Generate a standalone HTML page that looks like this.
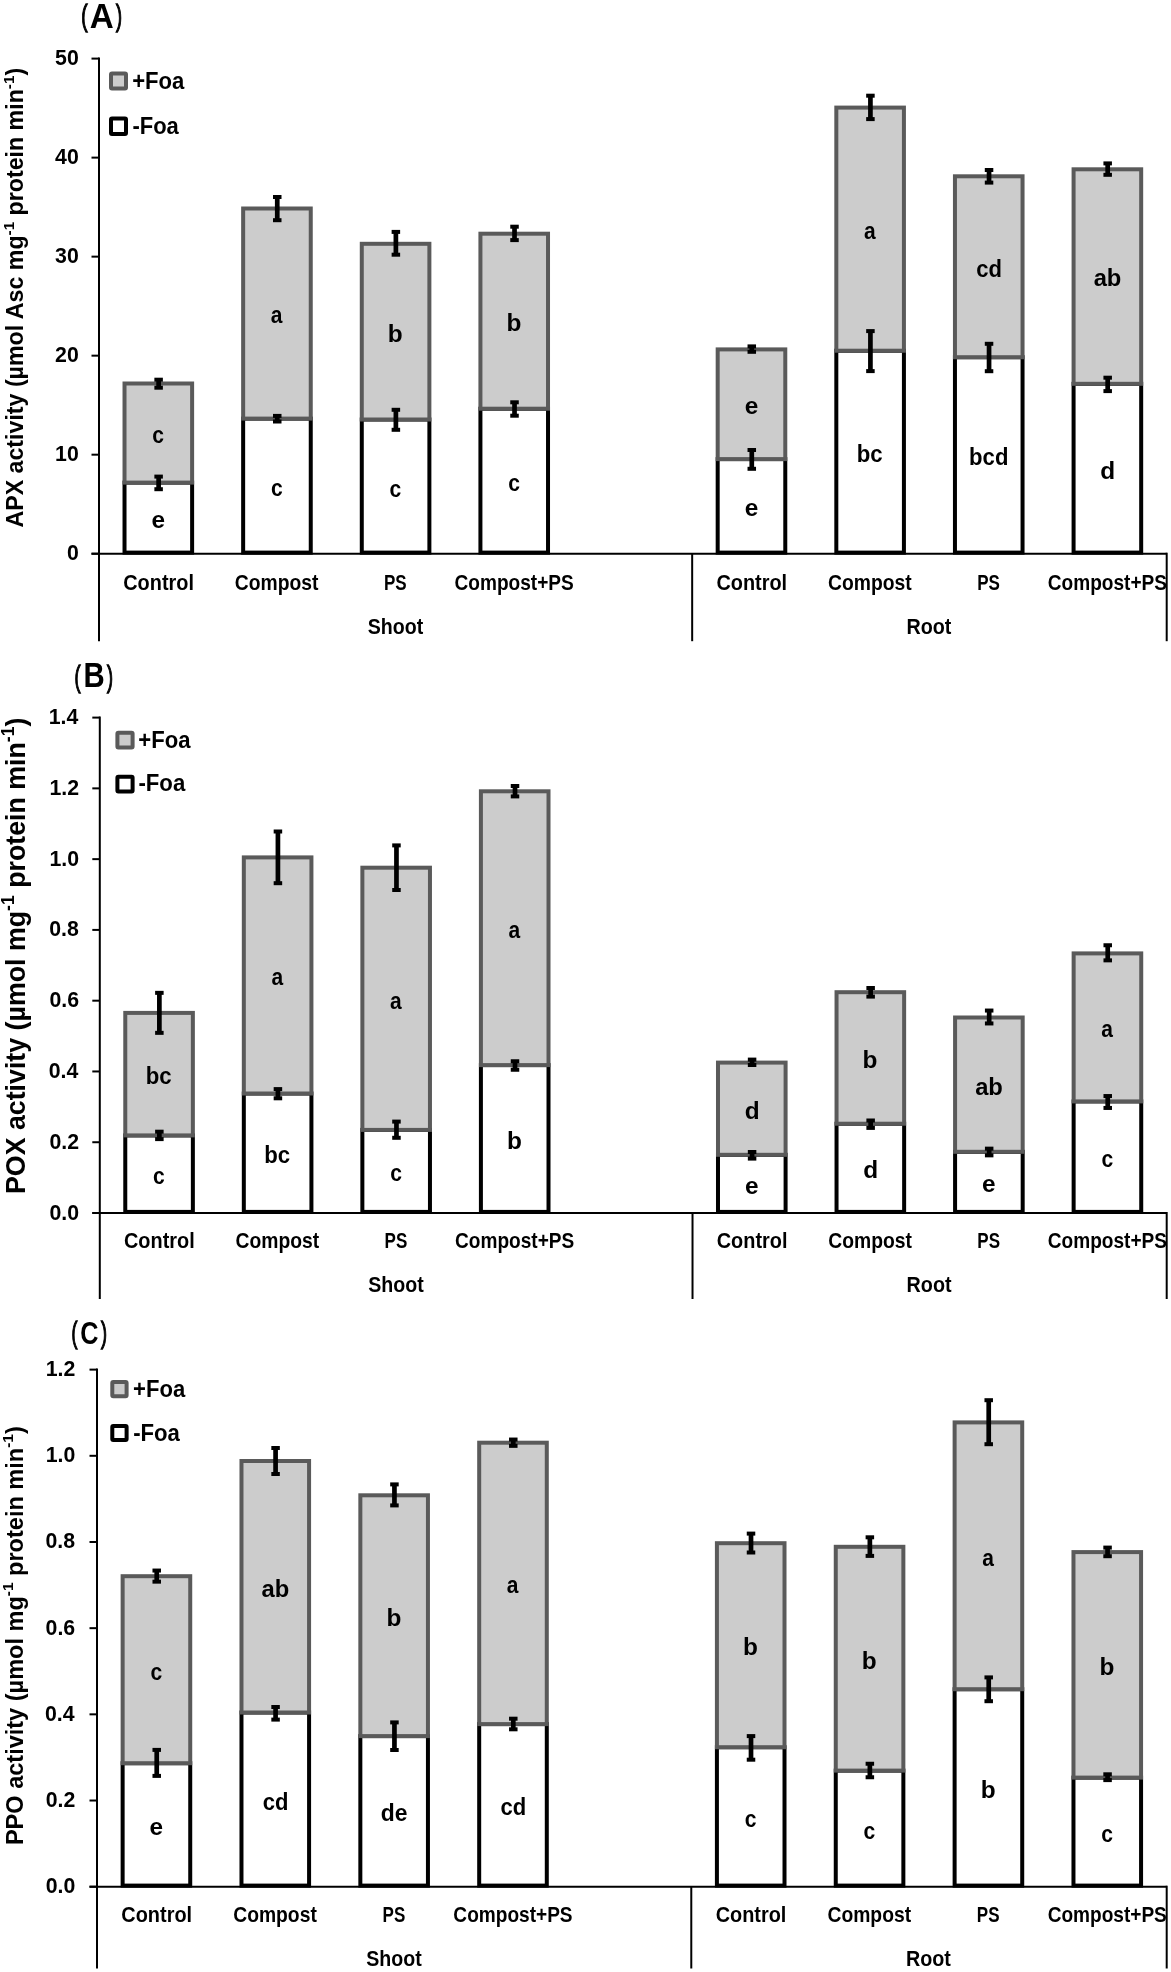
<!DOCTYPE html>
<html><head><meta charset="utf-8"><title>Enzyme activity chart</title>
<style>html,body{margin:0;padding:0;background:#fff;}svg{display:block;will-change:transform;}</style>
</head><body>
<svg width="1171" height="1972" viewBox="0 0 1171 1972" font-family='"Liberation Sans", sans-serif'>
<rect width="100%" height="100%" fill="#fff"/>
<rect x="124.52" y="482.6" width="67.6" height="70" fill="#fff" stroke="#000" stroke-width="4"/>
<rect x="124.52" y="383.5" width="67.6" height="99.1" fill="#cccccc" stroke="#5a5a5a" stroke-width="4"/>
<rect x="243.15" y="418.6" width="67.6" height="134" fill="#fff" stroke="#000" stroke-width="4"/>
<rect x="243.15" y="208.5" width="67.6" height="210.1" fill="#cccccc" stroke="#5a5a5a" stroke-width="4"/>
<rect x="361.78" y="419.5" width="67.6" height="133.1" fill="#fff" stroke="#000" stroke-width="4"/>
<rect x="361.78" y="243.8" width="67.6" height="175.7" fill="#cccccc" stroke="#5a5a5a" stroke-width="4"/>
<rect x="480.42" y="408.7" width="67.6" height="143.9" fill="#fff" stroke="#000" stroke-width="4"/>
<rect x="480.42" y="233.7" width="67.6" height="175" fill="#cccccc" stroke="#5a5a5a" stroke-width="4"/>
<rect x="717.68" y="459.1" width="67.6" height="93.5" fill="#fff" stroke="#000" stroke-width="4"/>
<rect x="717.68" y="349.4" width="67.6" height="109.7" fill="#cccccc" stroke="#5a5a5a" stroke-width="4"/>
<rect x="836.32" y="350.7" width="67.6" height="201.9" fill="#fff" stroke="#000" stroke-width="4"/>
<rect x="836.32" y="107.6" width="67.6" height="243.1" fill="#cccccc" stroke="#5a5a5a" stroke-width="4"/>
<rect x="954.95" y="357.2" width="67.6" height="195.4" fill="#fff" stroke="#000" stroke-width="4"/>
<rect x="954.95" y="176.3" width="67.6" height="180.9" fill="#cccccc" stroke="#5a5a5a" stroke-width="4"/>
<rect x="1073.58" y="383.8" width="67.6" height="168.8" fill="#fff" stroke="#000" stroke-width="4"/>
<rect x="1073.58" y="169.3" width="67.6" height="214.5" fill="#cccccc" stroke="#5a5a5a" stroke-width="4"/>
<line x1="99" y1="57.6" x2="99" y2="641.2" stroke="#000" stroke-width="2" stroke-linecap="butt"/>
<line x1="91.5" y1="553.7" x2="1166.7" y2="553.7" stroke="#000" stroke-width="2" stroke-linecap="butt"/>
<line x1="1166.7" y1="552.7" x2="1166.7" y2="641.2" stroke="#000" stroke-width="2" stroke-linecap="butt"/>
<line x1="692.17" y1="553.7" x2="692.17" y2="641.2" stroke="#000" stroke-width="2" stroke-linecap="butt"/>
<line x1="91.5" y1="553.7" x2="99" y2="553.7" stroke="#000" stroke-width="2" stroke-linecap="butt"/>
<text x="66.94" y="560.2" font-size="21.5" font-weight="bold" textLength="11.84" lengthAdjust="spacingAndGlyphs" fill="#000">0</text>
<line x1="91.5" y1="454.68" x2="99" y2="454.68" stroke="#000" stroke-width="2" stroke-linecap="butt"/>
<text x="55.1" y="461.18" font-size="21.5" font-weight="bold" textLength="23.68" lengthAdjust="spacingAndGlyphs" fill="#000">10</text>
<line x1="91.5" y1="355.66" x2="99" y2="355.66" stroke="#000" stroke-width="2" stroke-linecap="butt"/>
<text x="55.1" y="362.16" font-size="21.5" font-weight="bold" textLength="23.68" lengthAdjust="spacingAndGlyphs" fill="#000">20</text>
<line x1="91.5" y1="256.64" x2="99" y2="256.64" stroke="#000" stroke-width="2" stroke-linecap="butt"/>
<text x="55.1" y="263.14" font-size="21.5" font-weight="bold" textLength="23.68" lengthAdjust="spacingAndGlyphs" fill="#000">30</text>
<line x1="91.5" y1="157.62" x2="99" y2="157.62" stroke="#000" stroke-width="2" stroke-linecap="butt"/>
<text x="55.1" y="164.12" font-size="21.5" font-weight="bold" textLength="23.68" lengthAdjust="spacingAndGlyphs" fill="#000">40</text>
<line x1="91.5" y1="58.6" x2="99" y2="58.6" stroke="#000" stroke-width="2" stroke-linecap="butt"/>
<text x="55.1" y="65.1" font-size="21.5" font-weight="bold" textLength="23.68" lengthAdjust="spacingAndGlyphs" fill="#000">50</text>
<rect x="156.27" y="379.7" width="4.7" height="8" fill="#000"/>
<rect x="154.37" y="377.7" width="8.5" height="4" fill="#000"/>
<rect x="154.37" y="385.7" width="8.5" height="4" fill="#000"/>
<rect x="156.27" y="476.6" width="4.7" height="12.6" fill="#000"/>
<rect x="154.37" y="474.6" width="8.5" height="4" fill="#000"/>
<rect x="154.37" y="487.2" width="8.5" height="4" fill="#000"/>
<rect x="274.9" y="197" width="4.7" height="23.2" fill="#000"/>
<rect x="273" y="195" width="8.5" height="4" fill="#000"/>
<rect x="273" y="218.2" width="8.5" height="4" fill="#000"/>
<rect x="274.9" y="415.9" width="4.7" height="5.6" fill="#000"/>
<rect x="273" y="413.9" width="8.5" height="4" fill="#000"/>
<rect x="273" y="419.5" width="8.5" height="4" fill="#000"/>
<rect x="393.53" y="231.9" width="4.7" height="22.8" fill="#000"/>
<rect x="391.63" y="229.9" width="8.5" height="4" fill="#000"/>
<rect x="391.63" y="252.7" width="8.5" height="4" fill="#000"/>
<rect x="393.53" y="409.8" width="4.7" height="20" fill="#000"/>
<rect x="391.63" y="407.8" width="8.5" height="4" fill="#000"/>
<rect x="391.63" y="427.8" width="8.5" height="4" fill="#000"/>
<rect x="512.17" y="226.7" width="4.7" height="13.4" fill="#000"/>
<rect x="510.27" y="224.7" width="8.5" height="4" fill="#000"/>
<rect x="510.27" y="238.1" width="8.5" height="4" fill="#000"/>
<rect x="512.17" y="402.3" width="4.7" height="13.4" fill="#000"/>
<rect x="510.27" y="400.3" width="8.5" height="4" fill="#000"/>
<rect x="510.27" y="413.7" width="8.5" height="4" fill="#000"/>
<rect x="749.43" y="346.4" width="4.7" height="5.4" fill="#000"/>
<rect x="747.53" y="344.4" width="8.5" height="4" fill="#000"/>
<rect x="747.53" y="349.8" width="8.5" height="4" fill="#000"/>
<rect x="749.43" y="450" width="4.7" height="18.8" fill="#000"/>
<rect x="747.53" y="448" width="8.5" height="4" fill="#000"/>
<rect x="747.53" y="466.8" width="8.5" height="4" fill="#000"/>
<rect x="868.07" y="95.7" width="4.7" height="23.4" fill="#000"/>
<rect x="866.17" y="93.7" width="8.5" height="4" fill="#000"/>
<rect x="866.17" y="117.1" width="8.5" height="4" fill="#000"/>
<rect x="868.07" y="331.1" width="4.7" height="40" fill="#000"/>
<rect x="866.17" y="329.1" width="8.5" height="4" fill="#000"/>
<rect x="866.17" y="369.1" width="8.5" height="4" fill="#000"/>
<rect x="986.7" y="170" width="4.7" height="12.6" fill="#000"/>
<rect x="984.8" y="168" width="8.5" height="4" fill="#000"/>
<rect x="984.8" y="180.6" width="8.5" height="4" fill="#000"/>
<rect x="986.7" y="343.8" width="4.7" height="27.4" fill="#000"/>
<rect x="984.8" y="341.8" width="8.5" height="4" fill="#000"/>
<rect x="984.8" y="369.2" width="8.5" height="4" fill="#000"/>
<rect x="1105.33" y="163.4" width="4.7" height="11.4" fill="#000"/>
<rect x="1103.43" y="161.4" width="8.5" height="4" fill="#000"/>
<rect x="1103.43" y="172.8" width="8.5" height="4" fill="#000"/>
<rect x="1105.33" y="377.7" width="4.7" height="13.4" fill="#000"/>
<rect x="1103.43" y="375.7" width="8.5" height="4" fill="#000"/>
<rect x="1103.43" y="389.1" width="8.5" height="4" fill="#000"/>
<text x="152.34" y="442.95" font-size="24.5" font-weight="bold" textLength="11.74" lengthAdjust="spacingAndGlyphs" fill="#000">c</text>
<text x="151.46" y="528.05" font-size="24.5" font-weight="bold" textLength="13.59" lengthAdjust="spacingAndGlyphs" fill="#000">e</text>
<text x="270.73" y="323.45" font-size="24.5" font-weight="bold" textLength="11.68" lengthAdjust="spacingAndGlyphs" fill="#000">a</text>
<text x="270.98" y="496.05" font-size="24.5" font-weight="bold" textLength="11.74" lengthAdjust="spacingAndGlyphs" fill="#000">c</text>
<text x="387.82" y="341.55" font-size="24.5" font-weight="bold" textLength="14.91" lengthAdjust="spacingAndGlyphs" fill="#000">b</text>
<text x="389.61" y="496.5" font-size="24.5" font-weight="bold" textLength="11.74" lengthAdjust="spacingAndGlyphs" fill="#000">c</text>
<text x="506.46" y="331.1" font-size="24.5" font-weight="bold" textLength="14.91" lengthAdjust="spacingAndGlyphs" fill="#000">b</text>
<text x="508.24" y="491.1" font-size="24.5" font-weight="bold" textLength="11.74" lengthAdjust="spacingAndGlyphs" fill="#000">c</text>
<text x="744.63" y="414.15" font-size="24.5" font-weight="bold" textLength="13.59" lengthAdjust="spacingAndGlyphs" fill="#000">e</text>
<text x="744.63" y="516.3" font-size="24.5" font-weight="bold" textLength="13.59" lengthAdjust="spacingAndGlyphs" fill="#000">e</text>
<text x="863.9" y="239.05" font-size="24.5" font-weight="bold" textLength="11.68" lengthAdjust="spacingAndGlyphs" fill="#000">a</text>
<text x="856.75" y="462.1" font-size="24.5" font-weight="bold" textLength="25.91" lengthAdjust="spacingAndGlyphs" fill="#000">bc</text>
<text x="976.19" y="276.65" font-size="24.5" font-weight="bold" textLength="25.71" lengthAdjust="spacingAndGlyphs" fill="#000">cd</text>
<text x="969.09" y="465.35" font-size="24.5" font-weight="bold" textLength="39.32" lengthAdjust="spacingAndGlyphs" fill="#000">bcd</text>
<text x="1093.64" y="286.45" font-size="24.5" font-weight="bold" textLength="27.77" lengthAdjust="spacingAndGlyphs" fill="#000">ab</text>
<text x="1100.23" y="478.65" font-size="24.5" font-weight="bold" textLength="14.91" lengthAdjust="spacingAndGlyphs" fill="#000">d</text>
<text x="123.25" y="590.4" font-size="21.3" font-weight="bold" textLength="70.72" lengthAdjust="spacingAndGlyphs" fill="#000">Control</text>
<text x="234.86" y="590.4" font-size="21.3" font-weight="bold" textLength="83.63" lengthAdjust="spacingAndGlyphs" fill="#000">Compost</text>
<text x="383.99" y="590.4" font-size="21.3" font-weight="bold" textLength="22.7" lengthAdjust="spacingAndGlyphs" fill="#000">PS</text>
<text x="454.58" y="590.4" font-size="21.3" font-weight="bold" textLength="119.23" lengthAdjust="spacingAndGlyphs" fill="#000">Compost+PS</text>
<text x="716.42" y="590.4" font-size="21.3" font-weight="bold" textLength="70.72" lengthAdjust="spacingAndGlyphs" fill="#000">Control</text>
<text x="828.03" y="590.4" font-size="21.3" font-weight="bold" textLength="83.63" lengthAdjust="spacingAndGlyphs" fill="#000">Compost</text>
<text x="977.16" y="590.4" font-size="21.3" font-weight="bold" textLength="22.7" lengthAdjust="spacingAndGlyphs" fill="#000">PS</text>
<text x="1047.75" y="590.4" font-size="21.3" font-weight="bold" textLength="119.23" lengthAdjust="spacingAndGlyphs" fill="#000">Compost+PS</text>
<text x="367.67" y="634.2" font-size="21.3" font-weight="bold" textLength="55.5" lengthAdjust="spacingAndGlyphs" fill="#000">Shoot</text>
<text x="906.41" y="634.2" font-size="21.3" font-weight="bold" textLength="44.96" lengthAdjust="spacingAndGlyphs" fill="#000">Root</text>
<rect x="111" y="73.5" width="15" height="15.1" fill="#cccccc" stroke="#5a5a5a" stroke-width="4" rx="1"/>
<rect x="111" y="118.4" width="15" height="15.6" fill="#fff" stroke="#000" stroke-width="4" rx="1"/>
<text x="132.17" y="88.6" font-size="23.3" font-weight="bold" textLength="52.19" lengthAdjust="spacingAndGlyphs" fill="#000">+Foa</text>
<text x="132.44" y="134.3" font-size="23.3" font-weight="bold" textLength="46.42" lengthAdjust="spacingAndGlyphs" fill="#000">-Foa</text>
<text x="81.23" y="26.4" font-size="30" font-weight="normal" textLength="6.28" lengthAdjust="spacingAndGlyphs" fill="#000" stroke="#000" stroke-width="1.3">(</text>
<text x="115.99" y="26.4" font-size="30" font-weight="normal" textLength="6.03" lengthAdjust="spacingAndGlyphs" fill="#000" stroke="#000" stroke-width="1.3">)</text>
<text x="89.87" y="27.5" font-size="35.6" font-weight="bold" textLength="24" lengthAdjust="spacingAndGlyphs" fill="#000">A</text>
<text transform="translate(22.8 527) rotate(-90) scale(1 1)" x="-0.58" y="0" font-size="23.2" font-weight="bold"><tspan>APX activity (µmol Asc mg</tspan><tspan font-size="15.31" dy="-9.28">-1</tspan><tspan font-size="23.2" dy="9.28">​</tspan><tspan> protein min</tspan><tspan font-size="15.31" dy="-9.28">-1</tspan><tspan font-size="23.2" dy="9.28">​</tspan><tspan>)</tspan></text>
<rect x="125.27" y="1135.4" width="67.6" height="76.5" fill="#fff" stroke="#000" stroke-width="4"/>
<rect x="125.27" y="1012.9" width="67.6" height="122.5" fill="#cccccc" stroke="#5a5a5a" stroke-width="4"/>
<rect x="243.82" y="1093.5" width="67.6" height="118.4" fill="#fff" stroke="#000" stroke-width="4"/>
<rect x="243.82" y="857.4" width="67.6" height="236.1" fill="#cccccc" stroke="#5a5a5a" stroke-width="4"/>
<rect x="362.36" y="1129.9" width="67.6" height="82" fill="#fff" stroke="#000" stroke-width="4"/>
<rect x="362.36" y="867.7" width="67.6" height="262.2" fill="#cccccc" stroke="#5a5a5a" stroke-width="4"/>
<rect x="480.91" y="1065.1" width="67.6" height="146.8" fill="#fff" stroke="#000" stroke-width="4"/>
<rect x="480.91" y="791.3" width="67.6" height="273.8" fill="#cccccc" stroke="#5a5a5a" stroke-width="4"/>
<rect x="717.99" y="1154.8" width="67.6" height="57.1" fill="#fff" stroke="#000" stroke-width="4"/>
<rect x="717.99" y="1062.6" width="67.6" height="92.2" fill="#cccccc" stroke="#5a5a5a" stroke-width="4"/>
<rect x="836.54" y="1123.7" width="67.6" height="88.2" fill="#fff" stroke="#000" stroke-width="4"/>
<rect x="836.54" y="992.2" width="67.6" height="131.5" fill="#cccccc" stroke="#5a5a5a" stroke-width="4"/>
<rect x="955.08" y="1151.8" width="67.6" height="60.1" fill="#fff" stroke="#000" stroke-width="4"/>
<rect x="955.08" y="1017.5" width="67.6" height="134.3" fill="#cccccc" stroke="#5a5a5a" stroke-width="4"/>
<rect x="1073.63" y="1101.4" width="67.6" height="110.5" fill="#fff" stroke="#000" stroke-width="4"/>
<rect x="1073.63" y="953.4" width="67.6" height="148" fill="#cccccc" stroke="#5a5a5a" stroke-width="4"/>
<line x1="99.8" y1="716.6" x2="99.8" y2="1299" stroke="#000" stroke-width="2" stroke-linecap="butt"/>
<line x1="92.3" y1="1213" x2="1166.7" y2="1213" stroke="#000" stroke-width="2" stroke-linecap="butt"/>
<line x1="1166.7" y1="1212" x2="1166.7" y2="1299" stroke="#000" stroke-width="2" stroke-linecap="butt"/>
<line x1="692.52" y1="1213" x2="692.52" y2="1299" stroke="#000" stroke-width="2" stroke-linecap="butt"/>
<line x1="92.3" y1="1213" x2="99.8" y2="1213" stroke="#000" stroke-width="2" stroke-linecap="butt"/>
<text x="49.48" y="1219.5" font-size="21.5" font-weight="bold" textLength="29.59" lengthAdjust="spacingAndGlyphs" fill="#000">0.0</text>
<line x1="92.3" y1="1142.23" x2="99.8" y2="1142.23" stroke="#000" stroke-width="2" stroke-linecap="butt"/>
<text x="49.46" y="1148.73" font-size="21.5" font-weight="bold" textLength="29.59" lengthAdjust="spacingAndGlyphs" fill="#000">0.2</text>
<line x1="92.3" y1="1071.46" x2="99.8" y2="1071.46" stroke="#000" stroke-width="2" stroke-linecap="butt"/>
<text x="48.73" y="1077.96" font-size="21.5" font-weight="bold" textLength="29.59" lengthAdjust="spacingAndGlyphs" fill="#000">0.4</text>
<line x1="92.3" y1="1000.68" x2="99.8" y2="1000.68" stroke="#000" stroke-width="2" stroke-linecap="butt"/>
<text x="49.38" y="1007.18" font-size="21.5" font-weight="bold" textLength="29.59" lengthAdjust="spacingAndGlyphs" fill="#000">0.6</text>
<line x1="92.3" y1="929.91" x2="99.8" y2="929.91" stroke="#000" stroke-width="2" stroke-linecap="butt"/>
<text x="49.27" y="936.41" font-size="21.5" font-weight="bold" textLength="29.59" lengthAdjust="spacingAndGlyphs" fill="#000">0.8</text>
<line x1="92.3" y1="859.14" x2="99.8" y2="859.14" stroke="#000" stroke-width="2" stroke-linecap="butt"/>
<text x="49.48" y="865.64" font-size="21.5" font-weight="bold" textLength="29.59" lengthAdjust="spacingAndGlyphs" fill="#000">1.0</text>
<line x1="92.3" y1="788.37" x2="99.8" y2="788.37" stroke="#000" stroke-width="2" stroke-linecap="butt"/>
<text x="49.46" y="794.87" font-size="21.5" font-weight="bold" textLength="29.59" lengthAdjust="spacingAndGlyphs" fill="#000">1.2</text>
<line x1="92.3" y1="717.6" x2="99.8" y2="717.6" stroke="#000" stroke-width="2" stroke-linecap="butt"/>
<text x="48.73" y="724.1" font-size="21.5" font-weight="bold" textLength="29.59" lengthAdjust="spacingAndGlyphs" fill="#000">1.4</text>
<rect x="157.02" y="992.85" width="4.7" height="40" fill="#000"/>
<rect x="155.12" y="990.85" width="8.5" height="4" fill="#000"/>
<rect x="155.12" y="1030.85" width="8.5" height="4" fill="#000"/>
<rect x="157.02" y="1131.7" width="4.7" height="7.4" fill="#000"/>
<rect x="155.12" y="1129.7" width="8.5" height="4" fill="#000"/>
<rect x="155.12" y="1137.1" width="8.5" height="4" fill="#000"/>
<rect x="275.57" y="831.5" width="4.7" height="51.7" fill="#000"/>
<rect x="273.67" y="829.5" width="8.5" height="4" fill="#000"/>
<rect x="273.67" y="881.2" width="8.5" height="4" fill="#000"/>
<rect x="275.57" y="1089.1" width="4.7" height="9.2" fill="#000"/>
<rect x="273.67" y="1087.1" width="8.5" height="4" fill="#000"/>
<rect x="273.67" y="1096.3" width="8.5" height="4" fill="#000"/>
<rect x="394.11" y="845.4" width="4.7" height="44.6" fill="#000"/>
<rect x="392.21" y="843.4" width="8.5" height="4" fill="#000"/>
<rect x="392.21" y="888" width="8.5" height="4" fill="#000"/>
<rect x="394.11" y="1121.6" width="4.7" height="16.2" fill="#000"/>
<rect x="392.21" y="1119.6" width="8.5" height="4" fill="#000"/>
<rect x="392.21" y="1135.8" width="8.5" height="4" fill="#000"/>
<rect x="512.66" y="786" width="4.7" height="10.4" fill="#000"/>
<rect x="510.76" y="784" width="8.5" height="4" fill="#000"/>
<rect x="510.76" y="794.4" width="8.5" height="4" fill="#000"/>
<rect x="512.66" y="1061.25" width="4.7" height="8.5" fill="#000"/>
<rect x="510.76" y="1059.25" width="8.5" height="4" fill="#000"/>
<rect x="510.76" y="1067.75" width="8.5" height="4" fill="#000"/>
<rect x="749.74" y="1059.6" width="4.7" height="5.4" fill="#000"/>
<rect x="747.84" y="1057.6" width="8.5" height="4" fill="#000"/>
<rect x="747.84" y="1063" width="8.5" height="4" fill="#000"/>
<rect x="749.74" y="1152" width="4.7" height="6.6" fill="#000"/>
<rect x="747.84" y="1150" width="8.5" height="4" fill="#000"/>
<rect x="747.84" y="1156.6" width="8.5" height="4" fill="#000"/>
<rect x="868.29" y="988" width="4.7" height="8.6" fill="#000"/>
<rect x="866.39" y="986" width="8.5" height="4" fill="#000"/>
<rect x="866.39" y="994.6" width="8.5" height="4" fill="#000"/>
<rect x="868.29" y="1120.5" width="4.7" height="7.4" fill="#000"/>
<rect x="866.39" y="1118.5" width="8.5" height="4" fill="#000"/>
<rect x="866.39" y="1125.9" width="8.5" height="4" fill="#000"/>
<rect x="986.83" y="1010.55" width="4.7" height="12.9" fill="#000"/>
<rect x="984.93" y="1008.55" width="8.5" height="4" fill="#000"/>
<rect x="984.93" y="1021.45" width="8.5" height="4" fill="#000"/>
<rect x="986.83" y="1148.65" width="4.7" height="6.7" fill="#000"/>
<rect x="984.93" y="1146.65" width="8.5" height="4" fill="#000"/>
<rect x="984.93" y="1153.35" width="8.5" height="4" fill="#000"/>
<rect x="1105.38" y="945.25" width="4.7" height="15.1" fill="#000"/>
<rect x="1103.48" y="943.25" width="8.5" height="4" fill="#000"/>
<rect x="1103.48" y="958.35" width="8.5" height="4" fill="#000"/>
<rect x="1105.38" y="1096.05" width="4.7" height="11.9" fill="#000"/>
<rect x="1103.48" y="1094.05" width="8.5" height="4" fill="#000"/>
<rect x="1103.48" y="1105.95" width="8.5" height="4" fill="#000"/>
<text x="145.71" y="1084.05" font-size="24.5" font-weight="bold" textLength="25.91" lengthAdjust="spacingAndGlyphs" fill="#000">bc</text>
<text x="153.1" y="1184.1" font-size="24.5" font-weight="bold" textLength="11.74" lengthAdjust="spacingAndGlyphs" fill="#000">c</text>
<text x="271.4" y="985.35" font-size="24.5" font-weight="bold" textLength="11.68" lengthAdjust="spacingAndGlyphs" fill="#000">a</text>
<text x="264.25" y="1163.15" font-size="24.5" font-weight="bold" textLength="25.91" lengthAdjust="spacingAndGlyphs" fill="#000">bc</text>
<text x="389.95" y="1008.7" font-size="24.5" font-weight="bold" textLength="11.68" lengthAdjust="spacingAndGlyphs" fill="#000">a</text>
<text x="390.19" y="1181.35" font-size="24.5" font-weight="bold" textLength="11.74" lengthAdjust="spacingAndGlyphs" fill="#000">c</text>
<text x="508.49" y="938.1" font-size="24.5" font-weight="bold" textLength="11.68" lengthAdjust="spacingAndGlyphs" fill="#000">a</text>
<text x="506.95" y="1148.95" font-size="24.5" font-weight="bold" textLength="14.91" lengthAdjust="spacingAndGlyphs" fill="#000">b</text>
<text x="744.64" y="1118.6" font-size="24.5" font-weight="bold" textLength="14.91" lengthAdjust="spacingAndGlyphs" fill="#000">d</text>
<text x="744.94" y="1193.8" font-size="24.5" font-weight="bold" textLength="13.59" lengthAdjust="spacingAndGlyphs" fill="#000">e</text>
<text x="862.58" y="1067.85" font-size="24.5" font-weight="bold" textLength="14.91" lengthAdjust="spacingAndGlyphs" fill="#000">b</text>
<text x="863.19" y="1178.25" font-size="24.5" font-weight="bold" textLength="14.91" lengthAdjust="spacingAndGlyphs" fill="#000">d</text>
<text x="975.14" y="1094.55" font-size="24.5" font-weight="bold" textLength="27.77" lengthAdjust="spacingAndGlyphs" fill="#000">ab</text>
<text x="982.03" y="1192.3" font-size="24.5" font-weight="bold" textLength="13.59" lengthAdjust="spacingAndGlyphs" fill="#000">e</text>
<text x="1101.21" y="1037.3" font-size="24.5" font-weight="bold" textLength="11.68" lengthAdjust="spacingAndGlyphs" fill="#000">a</text>
<text x="1101.45" y="1167.1" font-size="24.5" font-weight="bold" textLength="11.74" lengthAdjust="spacingAndGlyphs" fill="#000">c</text>
<text x="124.01" y="1248.2" font-size="21.3" font-weight="bold" textLength="70.72" lengthAdjust="spacingAndGlyphs" fill="#000">Control</text>
<text x="235.53" y="1248.2" font-size="21.3" font-weight="bold" textLength="83.63" lengthAdjust="spacingAndGlyphs" fill="#000">Compost</text>
<text x="384.57" y="1248.2" font-size="21.3" font-weight="bold" textLength="22.7" lengthAdjust="spacingAndGlyphs" fill="#000">PS</text>
<text x="455.07" y="1248.2" font-size="21.3" font-weight="bold" textLength="119.23" lengthAdjust="spacingAndGlyphs" fill="#000">Compost+PS</text>
<text x="716.73" y="1248.2" font-size="21.3" font-weight="bold" textLength="70.72" lengthAdjust="spacingAndGlyphs" fill="#000">Control</text>
<text x="828.25" y="1248.2" font-size="21.3" font-weight="bold" textLength="83.63" lengthAdjust="spacingAndGlyphs" fill="#000">Compost</text>
<text x="977.29" y="1248.2" font-size="21.3" font-weight="bold" textLength="22.7" lengthAdjust="spacingAndGlyphs" fill="#000">PS</text>
<text x="1047.8" y="1248.2" font-size="21.3" font-weight="bold" textLength="119.23" lengthAdjust="spacingAndGlyphs" fill="#000">Compost+PS</text>
<text x="368.25" y="1292.3" font-size="21.3" font-weight="bold" textLength="55.5" lengthAdjust="spacingAndGlyphs" fill="#000">Shoot</text>
<text x="906.59" y="1292.3" font-size="21.3" font-weight="bold" textLength="44.96" lengthAdjust="spacingAndGlyphs" fill="#000">Root</text>
<rect x="117.4" y="732.7" width="15.2" height="14.8" fill="#cccccc" stroke="#5a5a5a" stroke-width="4" rx="1"/>
<rect x="117.4" y="776.7" width="15.2" height="14.7" fill="#fff" stroke="#000" stroke-width="4" rx="1"/>
<text x="138.37" y="747.5" font-size="23.3" font-weight="bold" textLength="52.19" lengthAdjust="spacingAndGlyphs" fill="#000">+Foa</text>
<text x="138.43" y="791.3" font-size="23.3" font-weight="bold" textLength="46.83" lengthAdjust="spacingAndGlyphs" fill="#000">-Foa</text>
<text x="74.38" y="686.7" font-size="30" font-weight="normal" textLength="6.03" lengthAdjust="spacingAndGlyphs" fill="#000" stroke="#000" stroke-width="1.3">(</text>
<text x="107.09" y="686.7" font-size="30" font-weight="normal" textLength="6.03" lengthAdjust="spacingAndGlyphs" fill="#000" stroke="#000" stroke-width="1.3">)</text>
<text x="83.44" y="687.3" font-size="35.6" font-weight="bold" textLength="21.2" lengthAdjust="spacingAndGlyphs" fill="#000">B</text>
<text transform="translate(24.6 1192.2) rotate(-90) scale(0.97 1)" x="-1.85" y="0" font-size="27.6" font-weight="bold"><tspan>POX activity (µmol mg</tspan><tspan font-size="18.22" dy="-11.04">-1</tspan><tspan font-size="27.6" dy="11.04">​</tspan><tspan> protein min</tspan><tspan font-size="18.22" dy="-11.04">-1</tspan><tspan font-size="27.6" dy="11.04">​</tspan><tspan>)</tspan></text>
<rect x="122.63" y="1763.2" width="67.6" height="122.4" fill="#fff" stroke="#000" stroke-width="4"/>
<rect x="122.63" y="1576.2" width="67.6" height="187" fill="#cccccc" stroke="#5a5a5a" stroke-width="4"/>
<rect x="241.48" y="1712.5" width="67.6" height="173.1" fill="#fff" stroke="#000" stroke-width="4"/>
<rect x="241.48" y="1461" width="67.6" height="251.5" fill="#cccccc" stroke="#5a5a5a" stroke-width="4"/>
<rect x="360.34" y="1736.1" width="67.6" height="149.5" fill="#fff" stroke="#000" stroke-width="4"/>
<rect x="360.34" y="1495.3" width="67.6" height="240.8" fill="#cccccc" stroke="#5a5a5a" stroke-width="4"/>
<rect x="479.19" y="1724.1" width="67.6" height="161.5" fill="#fff" stroke="#000" stroke-width="4"/>
<rect x="479.19" y="1442.7" width="67.6" height="281.4" fill="#cccccc" stroke="#5a5a5a" stroke-width="4"/>
<rect x="716.91" y="1747.2" width="67.6" height="138.4" fill="#fff" stroke="#000" stroke-width="4"/>
<rect x="716.91" y="1543.2" width="67.6" height="204" fill="#cccccc" stroke="#5a5a5a" stroke-width="4"/>
<rect x="835.76" y="1770.6" width="67.6" height="115" fill="#fff" stroke="#000" stroke-width="4"/>
<rect x="835.76" y="1546.8" width="67.6" height="223.8" fill="#cccccc" stroke="#5a5a5a" stroke-width="4"/>
<rect x="954.62" y="1689.2" width="67.6" height="196.4" fill="#fff" stroke="#000" stroke-width="4"/>
<rect x="954.62" y="1422.4" width="67.6" height="266.8" fill="#cccccc" stroke="#5a5a5a" stroke-width="4"/>
<rect x="1073.47" y="1777.6" width="67.6" height="108" fill="#fff" stroke="#000" stroke-width="4"/>
<rect x="1073.47" y="1552.1" width="67.6" height="225.5" fill="#cccccc" stroke="#5a5a5a" stroke-width="4"/>
<line x1="97" y1="1368.6" x2="97" y2="1968.5" stroke="#000" stroke-width="2" stroke-linecap="butt"/>
<line x1="89.5" y1="1886.7" x2="1166.7" y2="1886.7" stroke="#000" stroke-width="2" stroke-linecap="butt"/>
<line x1="1166.7" y1="1885.7" x2="1166.7" y2="1968.5" stroke="#000" stroke-width="2" stroke-linecap="butt"/>
<line x1="691.28" y1="1886.7" x2="691.28" y2="1968.5" stroke="#000" stroke-width="2" stroke-linecap="butt"/>
<line x1="89.5" y1="1886.7" x2="97" y2="1886.7" stroke="#000" stroke-width="2" stroke-linecap="butt"/>
<text x="45.68" y="1893.2" font-size="21.5" font-weight="bold" textLength="29.59" lengthAdjust="spacingAndGlyphs" fill="#000">0.0</text>
<line x1="89.5" y1="1800.52" x2="97" y2="1800.52" stroke="#000" stroke-width="2" stroke-linecap="butt"/>
<text x="45.66" y="1807.02" font-size="21.5" font-weight="bold" textLength="29.59" lengthAdjust="spacingAndGlyphs" fill="#000">0.2</text>
<line x1="89.5" y1="1714.34" x2="97" y2="1714.34" stroke="#000" stroke-width="2" stroke-linecap="butt"/>
<text x="44.93" y="1720.84" font-size="21.5" font-weight="bold" textLength="29.59" lengthAdjust="spacingAndGlyphs" fill="#000">0.4</text>
<line x1="89.5" y1="1628.16" x2="97" y2="1628.16" stroke="#000" stroke-width="2" stroke-linecap="butt"/>
<text x="45.58" y="1634.66" font-size="21.5" font-weight="bold" textLength="29.59" lengthAdjust="spacingAndGlyphs" fill="#000">0.6</text>
<line x1="89.5" y1="1541.98" x2="97" y2="1541.98" stroke="#000" stroke-width="2" stroke-linecap="butt"/>
<text x="45.47" y="1548.48" font-size="21.5" font-weight="bold" textLength="29.59" lengthAdjust="spacingAndGlyphs" fill="#000">0.8</text>
<line x1="89.5" y1="1455.8" x2="97" y2="1455.8" stroke="#000" stroke-width="2" stroke-linecap="butt"/>
<text x="45.68" y="1462.3" font-size="21.5" font-weight="bold" textLength="29.59" lengthAdjust="spacingAndGlyphs" fill="#000">1.0</text>
<line x1="89.5" y1="1369.62" x2="97" y2="1369.62" stroke="#000" stroke-width="2" stroke-linecap="butt"/>
<text x="45.66" y="1376.12" font-size="21.5" font-weight="bold" textLength="29.59" lengthAdjust="spacingAndGlyphs" fill="#000">1.2</text>
<rect x="154.38" y="1570.55" width="4.7" height="11.1" fill="#000"/>
<rect x="152.48" y="1568.55" width="8.5" height="4" fill="#000"/>
<rect x="152.48" y="1579.65" width="8.5" height="4" fill="#000"/>
<rect x="154.38" y="1749.9" width="4.7" height="26" fill="#000"/>
<rect x="152.48" y="1747.9" width="8.5" height="4" fill="#000"/>
<rect x="152.48" y="1773.9" width="8.5" height="4" fill="#000"/>
<rect x="273.23" y="1448" width="4.7" height="26" fill="#000"/>
<rect x="271.33" y="1446" width="8.5" height="4" fill="#000"/>
<rect x="271.33" y="1472" width="8.5" height="4" fill="#000"/>
<rect x="273.23" y="1707" width="4.7" height="12.6" fill="#000"/>
<rect x="271.33" y="1705" width="8.5" height="4" fill="#000"/>
<rect x="271.33" y="1717.6" width="8.5" height="4" fill="#000"/>
<rect x="392.09" y="1484.4" width="4.7" height="21" fill="#000"/>
<rect x="390.19" y="1482.4" width="8.5" height="4" fill="#000"/>
<rect x="390.19" y="1503.4" width="8.5" height="4" fill="#000"/>
<rect x="392.09" y="1722.4" width="4.7" height="27.6" fill="#000"/>
<rect x="390.19" y="1720.4" width="8.5" height="4" fill="#000"/>
<rect x="390.19" y="1748" width="8.5" height="4" fill="#000"/>
<rect x="510.94" y="1439.55" width="4.7" height="6.3" fill="#000"/>
<rect x="509.04" y="1437.55" width="8.5" height="4" fill="#000"/>
<rect x="509.04" y="1443.85" width="8.5" height="4" fill="#000"/>
<rect x="510.94" y="1718.7" width="4.7" height="10.6" fill="#000"/>
<rect x="509.04" y="1716.7" width="8.5" height="4" fill="#000"/>
<rect x="509.04" y="1727.3" width="8.5" height="4" fill="#000"/>
<rect x="748.66" y="1533.6" width="4.7" height="18.9" fill="#000"/>
<rect x="746.76" y="1531.6" width="8.5" height="4" fill="#000"/>
<rect x="746.76" y="1550.5" width="8.5" height="4" fill="#000"/>
<rect x="748.66" y="1736.1" width="4.7" height="23.6" fill="#000"/>
<rect x="746.76" y="1734.1" width="8.5" height="4" fill="#000"/>
<rect x="746.76" y="1757.7" width="8.5" height="4" fill="#000"/>
<rect x="867.51" y="1537.3" width="4.7" height="18.6" fill="#000"/>
<rect x="865.61" y="1535.3" width="8.5" height="4" fill="#000"/>
<rect x="865.61" y="1553.9" width="8.5" height="4" fill="#000"/>
<rect x="867.51" y="1763.75" width="4.7" height="13.5" fill="#000"/>
<rect x="865.61" y="1761.75" width="8.5" height="4" fill="#000"/>
<rect x="865.61" y="1775.25" width="8.5" height="4" fill="#000"/>
<rect x="986.37" y="1400.2" width="4.7" height="44" fill="#000"/>
<rect x="984.47" y="1398.2" width="8.5" height="4" fill="#000"/>
<rect x="984.47" y="1442.2" width="8.5" height="4" fill="#000"/>
<rect x="986.37" y="1677.4" width="4.7" height="23.8" fill="#000"/>
<rect x="984.47" y="1675.4" width="8.5" height="4" fill="#000"/>
<rect x="984.47" y="1699.2" width="8.5" height="4" fill="#000"/>
<rect x="1105.22" y="1547.6" width="4.7" height="8.6" fill="#000"/>
<rect x="1103.32" y="1545.6" width="8.5" height="4" fill="#000"/>
<rect x="1103.32" y="1554.2" width="8.5" height="4" fill="#000"/>
<rect x="1105.22" y="1774.3" width="4.7" height="5.8" fill="#000"/>
<rect x="1103.32" y="1772.3" width="8.5" height="4" fill="#000"/>
<rect x="1103.32" y="1778.1" width="8.5" height="4" fill="#000"/>
<text x="150.45" y="1679.6" font-size="24.5" font-weight="bold" textLength="11.74" lengthAdjust="spacingAndGlyphs" fill="#000">c</text>
<text x="149.57" y="1834.85" font-size="24.5" font-weight="bold" textLength="13.59" lengthAdjust="spacingAndGlyphs" fill="#000">e</text>
<text x="261.54" y="1596.65" font-size="24.5" font-weight="bold" textLength="27.77" lengthAdjust="spacingAndGlyphs" fill="#000">ab</text>
<text x="262.72" y="1809.5" font-size="24.5" font-weight="bold" textLength="25.71" lengthAdjust="spacingAndGlyphs" fill="#000">cd</text>
<text x="386.38" y="1625.6" font-size="24.5" font-weight="bold" textLength="14.91" lengthAdjust="spacingAndGlyphs" fill="#000">b</text>
<text x="380.7" y="1821.3" font-size="24.5" font-weight="bold" textLength="26.72" lengthAdjust="spacingAndGlyphs" fill="#000">de</text>
<text x="506.78" y="1593.3" font-size="24.5" font-weight="bold" textLength="11.68" lengthAdjust="spacingAndGlyphs" fill="#000">a</text>
<text x="500.43" y="1815.3" font-size="24.5" font-weight="bold" textLength="25.71" lengthAdjust="spacingAndGlyphs" fill="#000">cd</text>
<text x="742.95" y="1655.1" font-size="24.5" font-weight="bold" textLength="14.91" lengthAdjust="spacingAndGlyphs" fill="#000">b</text>
<text x="744.73" y="1826.85" font-size="24.5" font-weight="bold" textLength="11.74" lengthAdjust="spacingAndGlyphs" fill="#000">c</text>
<text x="861.8" y="1668.6" font-size="24.5" font-weight="bold" textLength="14.91" lengthAdjust="spacingAndGlyphs" fill="#000">b</text>
<text x="863.59" y="1838.55" font-size="24.5" font-weight="bold" textLength="11.74" lengthAdjust="spacingAndGlyphs" fill="#000">c</text>
<text x="982.2" y="1565.7" font-size="24.5" font-weight="bold" textLength="11.68" lengthAdjust="spacingAndGlyphs" fill="#000">a</text>
<text x="980.66" y="1797.85" font-size="24.5" font-weight="bold" textLength="14.91" lengthAdjust="spacingAndGlyphs" fill="#000">b</text>
<text x="1099.51" y="1674.75" font-size="24.5" font-weight="bold" textLength="14.91" lengthAdjust="spacingAndGlyphs" fill="#000">b</text>
<text x="1101.3" y="1842.05" font-size="24.5" font-weight="bold" textLength="11.74" lengthAdjust="spacingAndGlyphs" fill="#000">c</text>
<text x="121.36" y="1922.1" font-size="21.3" font-weight="bold" textLength="70.72" lengthAdjust="spacingAndGlyphs" fill="#000">Control</text>
<text x="233.19" y="1922.1" font-size="21.3" font-weight="bold" textLength="83.63" lengthAdjust="spacingAndGlyphs" fill="#000">Compost</text>
<text x="382.55" y="1922.1" font-size="21.3" font-weight="bold" textLength="22.7" lengthAdjust="spacingAndGlyphs" fill="#000">PS</text>
<text x="453.36" y="1922.1" font-size="21.3" font-weight="bold" textLength="119.23" lengthAdjust="spacingAndGlyphs" fill="#000">Compost+PS</text>
<text x="715.64" y="1922.1" font-size="21.3" font-weight="bold" textLength="70.72" lengthAdjust="spacingAndGlyphs" fill="#000">Control</text>
<text x="827.47" y="1922.1" font-size="21.3" font-weight="bold" textLength="83.63" lengthAdjust="spacingAndGlyphs" fill="#000">Compost</text>
<text x="976.83" y="1922.1" font-size="21.3" font-weight="bold" textLength="22.7" lengthAdjust="spacingAndGlyphs" fill="#000">PS</text>
<text x="1047.64" y="1922.1" font-size="21.3" font-weight="bold" textLength="119.23" lengthAdjust="spacingAndGlyphs" fill="#000">Compost+PS</text>
<text x="366.22" y="1965.9" font-size="21.3" font-weight="bold" textLength="55.5" lengthAdjust="spacingAndGlyphs" fill="#000">Shoot</text>
<text x="905.97" y="1965.9" font-size="21.3" font-weight="bold" textLength="44.96" lengthAdjust="spacingAndGlyphs" fill="#000">Root</text>
<rect x="112.3" y="1381.9" width="14.3" height="14.3" fill="#cccccc" stroke="#5a5a5a" stroke-width="4" rx="1"/>
<rect x="112.3" y="1426" width="14.3" height="13.9" fill="#fff" stroke="#000" stroke-width="4" rx="1"/>
<text x="133.07" y="1396.5" font-size="23.3" font-weight="bold" textLength="52.09" lengthAdjust="spacingAndGlyphs" fill="#000">+Foa</text>
<text x="133.14" y="1440.5" font-size="23.3" font-weight="bold" textLength="46.72" lengthAdjust="spacingAndGlyphs" fill="#000">-Foa</text>
<text x="71.5" y="1343.2" font-size="30" font-weight="normal" textLength="5.9" lengthAdjust="spacingAndGlyphs" fill="#000" stroke="#000" stroke-width="1.3">(</text>
<text x="101.09" y="1343.2" font-size="30" font-weight="normal" textLength="6.03" lengthAdjust="spacingAndGlyphs" fill="#000" stroke="#000" stroke-width="1.3">)</text>
<text x="80.16" y="1343.8" font-size="30.5" font-weight="bold" textLength="18.23" lengthAdjust="spacingAndGlyphs" fill="#000">C</text>
<text transform="translate(22.7 1843.5) rotate(-90) scale(1.01 1)" x="-1.56" y="0" font-size="23.3" font-weight="bold"><tspan>PPO activity (µmol mg</tspan><tspan font-size="15.38" dy="-9.32">-1</tspan><tspan font-size="23.3" dy="9.32">​</tspan><tspan> protein min</tspan><tspan font-size="15.38" dy="-9.32">-1</tspan><tspan font-size="23.3" dy="9.32">​</tspan><tspan>)</tspan></text>
</svg>
</body></html>
